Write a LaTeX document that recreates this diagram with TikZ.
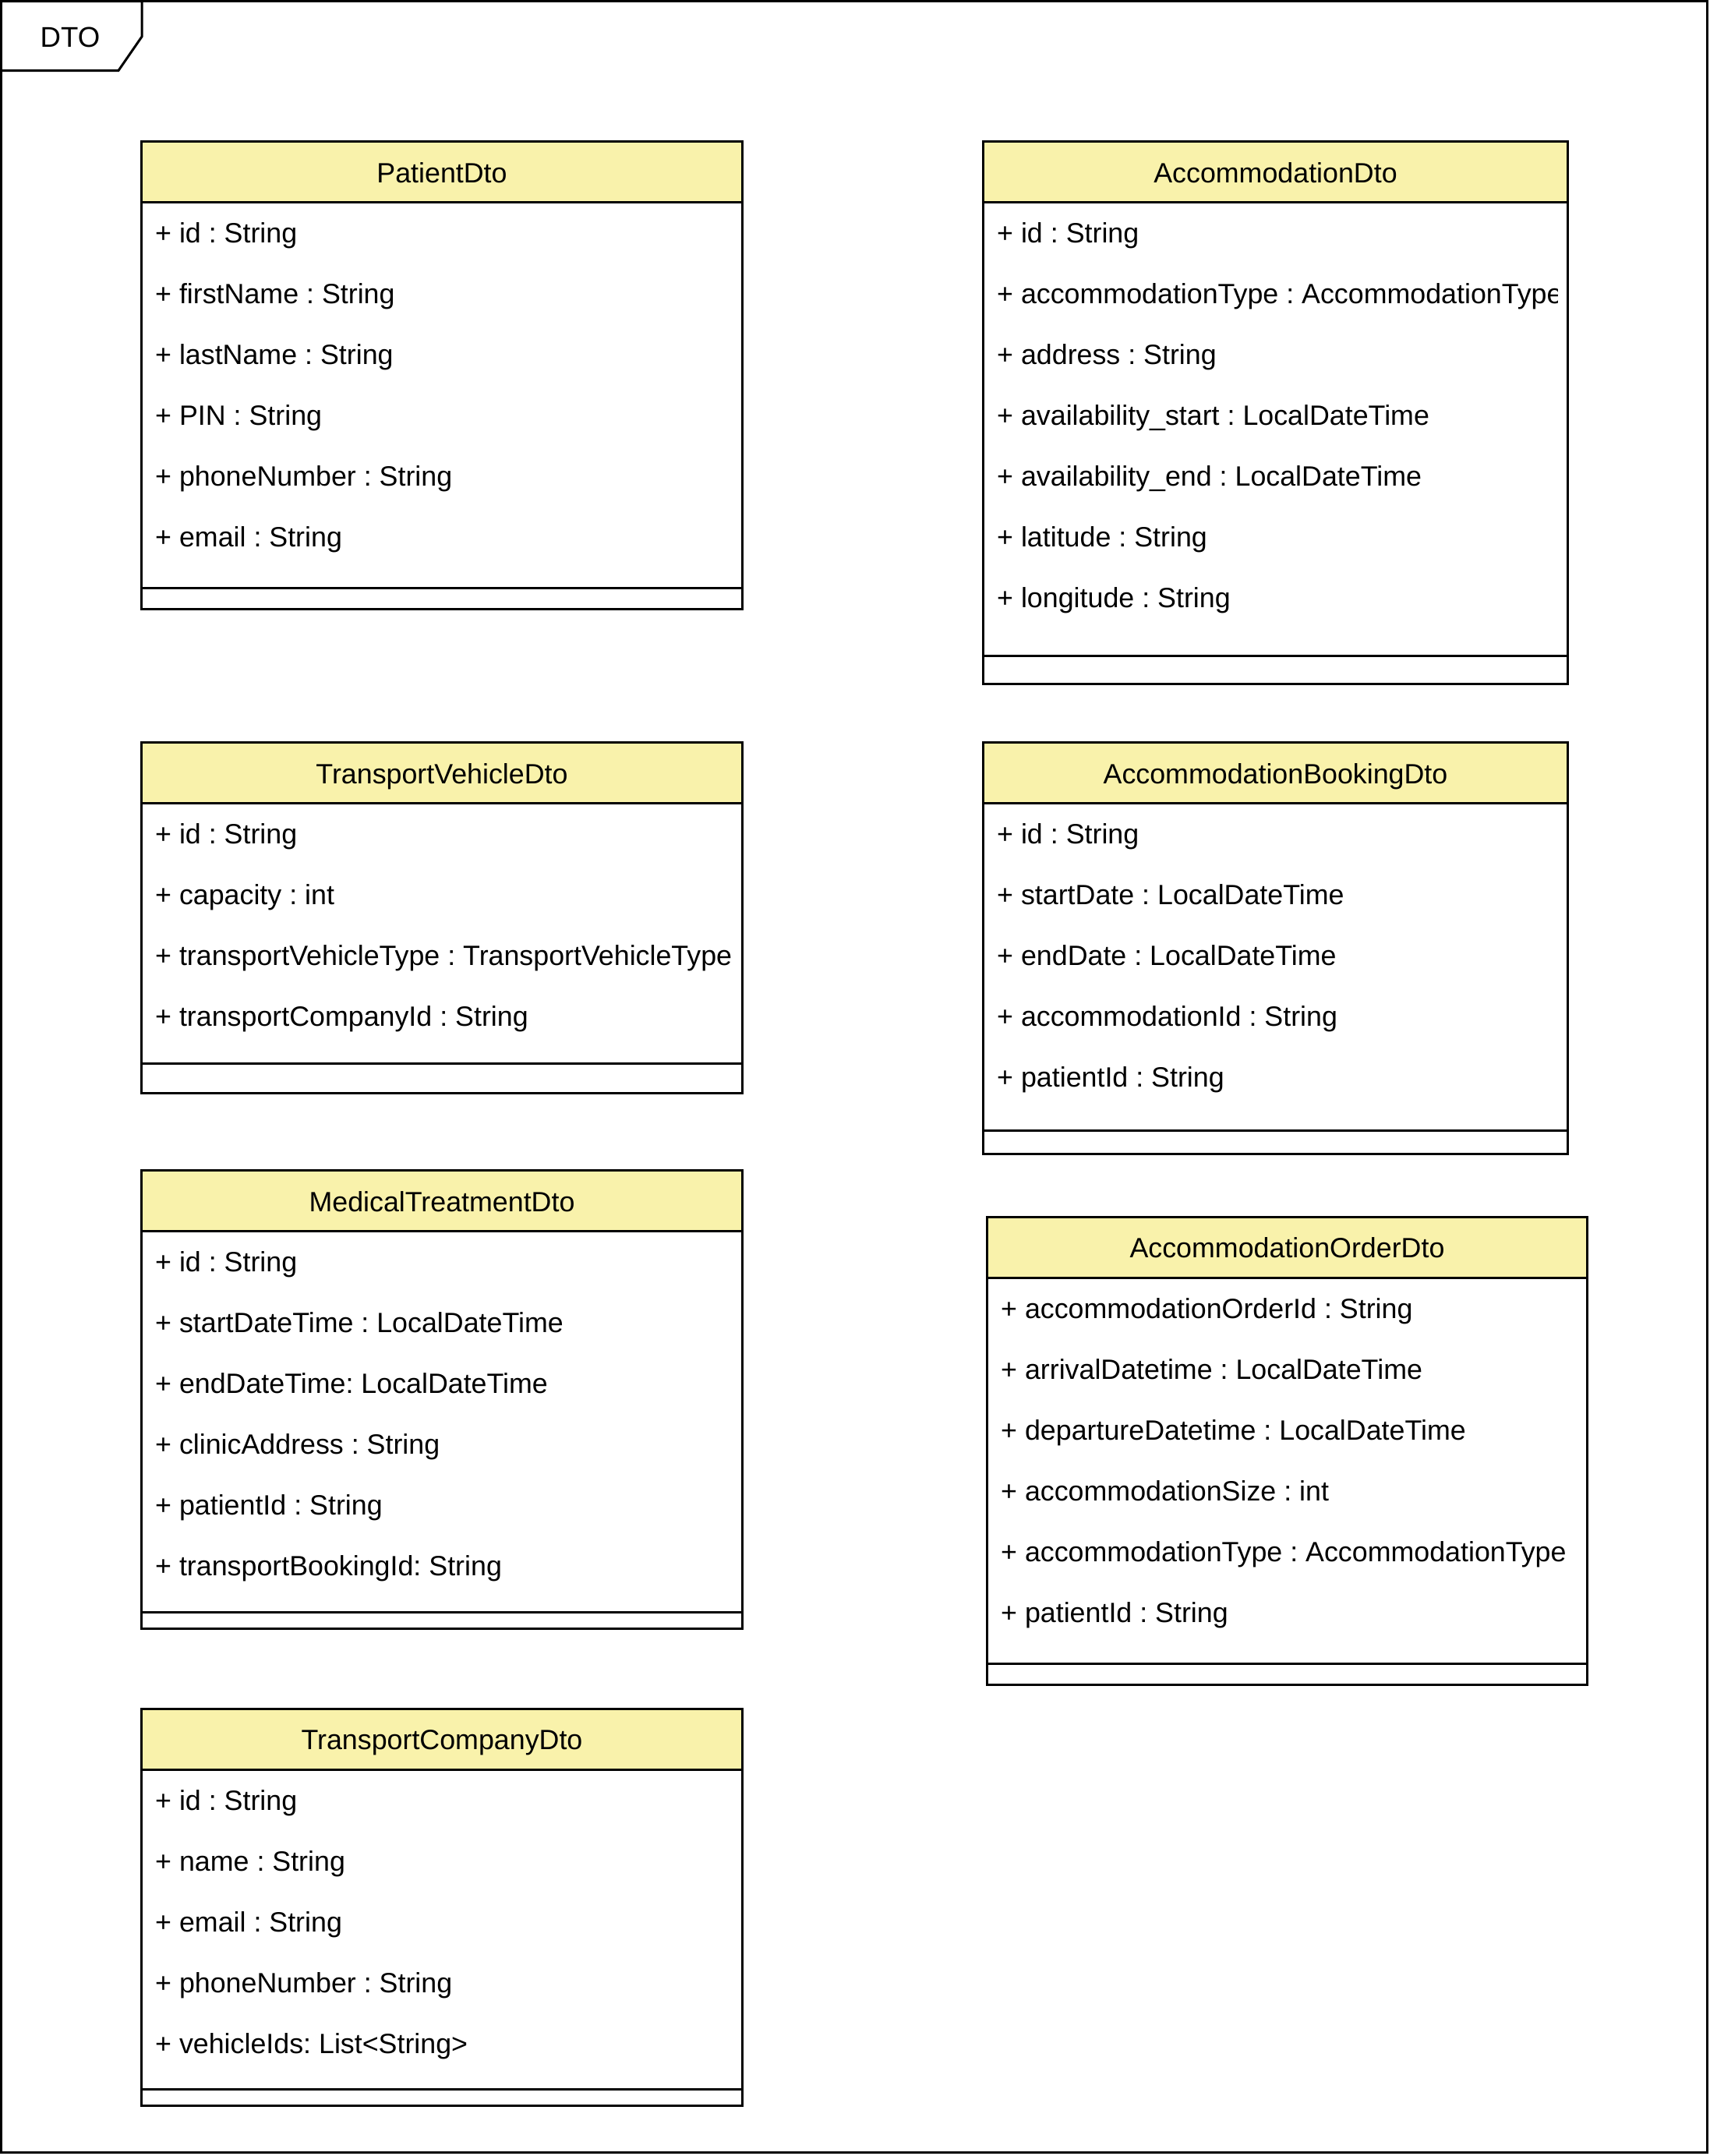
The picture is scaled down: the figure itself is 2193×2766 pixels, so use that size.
\documentclass[tikz,border=0pt]{standalone}
\usepackage{fontspec}
\setmainfont{Liberation Sans}
\frenchspacing
\definecolor{hdr}{RGB}{249,242,171}
\tikzset{
  boxline/.style={draw=black, line width=0.03cm},
  title/.style={anchor=base, inner sep=0pt, font=\fontsize{10.18pt}{12pt}\selectfont\frenchspacing},
  attr/.style={anchor=base west, inner sep=0pt, font=\fontsize{10.18pt}{12pt}\selectfont\frenchspacing},
  frametitle/.style={anchor=base, inner sep=0pt, font=\fontsize{10.4pt}{12pt}\selectfont}
}
% #1 name, #2 left, #3 right, #4 top, #5 separator, #6 bottom, #7 title, #8 rows
\newcommand\umlclass[8]{%
  \begin{scope}
    \draw[boxline] (#2,#4) rectangle (#3,#6);
    \filldraw[boxline, fill=hdr] (#2,#4) rectangle (#3,#4+78);
    \draw[boxline] (#2,#5) -- (#3,#5);
    \node[title] (#1) at ({(#2+#3)/2},#4+52.5) {#7};
    \clip (#2,#4) rectangle (#3-13,#6);
    \foreach \t [count=\i] in {#8}
      \node[attr] (#1-\i) at (#2+17,{#4+130+78*(\i-1)}) {\t};
  \end{scope}}
\begin{document}
\begin{tikzpicture}[x=0.01cm,y=-0.01cm]
\useasboundingbox (0,0) rectangle (2193,2766);
\fill[white] (0,0) rectangle (2193,2766);
% frame
\draw[boxline] (1.5,1.5) rectangle (2190.5,2761);
\draw[boxline] (1.5,1.5) -- (182,1.5) -- (182,47) -- (152,90.5) -- (1.5,90.5);
\node[frametitle] (dto) at (90,60.5) {DTO};

\umlclass{patient}{181.5}{952.5}{181.5}{754}{781}{PatientDto}%
 {+ id : String, + firstName : String, + lastName : String, + PIN : String, + phoneNumber : String, + email : String}

\umlclass{accommodation}{1261.5}{2011.5}{181.5}{841.5}{877}{AccommodationDto}%
 {+ id : String, + accommodationType : AccommodationType, + address : String, + availability\_start : LocalDateTime, + availability\_end : LocalDateTime, + latitude : String, + longitude : String}

\umlclass{vehicle}{181.5}{952.5}{952.5}{1364}{1402.5}{TransportVehicleDto}%
 {+ id : String, + capacity : int, + transportVehicleType : TransportVehicleType, + transportCompanyId : String}

\umlclass{booking}{1261.5}{2011.5}{952.5}{1450.5}{1480}{AccommodationBookingDto}%
 {+ id : String, + startDate : LocalDateTime, + endDate : LocalDateTime, + accommodationId : String, + patientId : String}

\umlclass{treatment}{181.5}{952.5}{1501.5}{2068}{2089}{MedicalTreatmentDto}%
 {+ id : String, + startDateTime : LocalDateTime, + endDateTime: LocalDateTime, + clinicAddress : String, + patientId : String, + transportBookingId: String}

\umlclass{order}{1266.5}{2036.5}{1561}{2134}{2161}{AccommodationOrderDto}%
 {+ accommodationOrderId : String, + arrivalDatetime : LocalDateTime, + departureDatetime : LocalDateTime, + accommodationSize : int, + accommodationType : AccommodationType, + patientId : String}

\umlclass{company}{181.5}{952.5}{2192}{2680.5}{2701}{TransportCompanyDto}%
 {+ id : String, + name : String, + email : String, + phoneNumber : String, + vehicleIds: List<String>}
\end{tikzpicture}
\end{document}
